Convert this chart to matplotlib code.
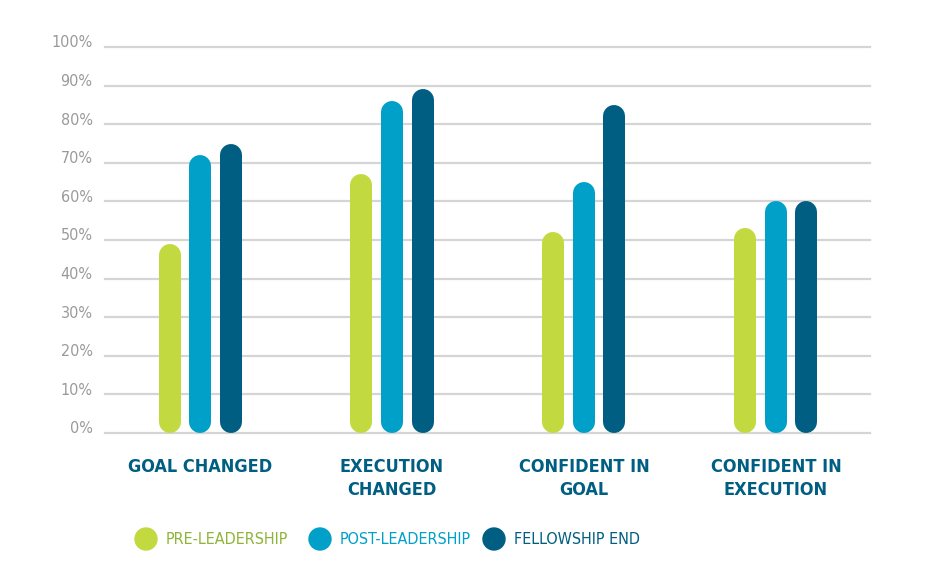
import matplotlib.pyplot as plt
from matplotlib.patches import Ellipse
from matplotlib.transforms import ScaledTranslation
import numpy as np

# Survey results (percent)
categories = ['GOAL CHANGED', 'EXECUTION\nCHANGED', 'CONFIDENT IN\nGOAL', 'CONFIDENT IN\nEXECUTION']
series = ['PRE-LEADERSHIP', 'POST-LEADERSHIP', 'FELLOWSHIP END']
pre_leadership = [49, 67, 52, 53]
post_leadership = [72, 86, 65, 60]
fellowship_end = [75, 89, 85, 60]
yticks = [0, 10, 20, 30, 40, 50, 60, 70, 80, 90, 100]

bar_colors = ['#c3d940', '#00a0c8', '#005e82']
text_colors = ['#8fb43a', '#00a0c8', '#005e82']
label_color = '#005e82'

plt.rcParams['font.family'] = ['DejaVu Sans']

fig = plt.figure(figsize=(9.26, 5.71), dpi=100)
W, H = 926., 571.
# axes placed so that 0% sits at y=433px and 100% at y=47px
ax = fig.add_axes([105 / W, 1 - 433 / H, 765 / W, 386 / H])
ax.set_xlim(-0.495, 3.49)
ax.set_ylim(0, 100)

for s in ax.spines.values():
    s.set_visible(False)
ax.set_xticks([])
ax.set_yticks(yticks)
ax.set_yticklabels(['{}%'.format(t) for t in yticks], color='#9a9a9a',
                   fontsize=11.5, fontstretch='condensed', va='center')
ax.tick_params(axis='y', length=0, pad=9)
# labels sit a little above their gridlines
for lbl in ax.get_yticklabels():
    lbl.set_transform(lbl.get_transform() + ScaledTranslation(0, 3 / 72., fig.dpi_scale_trans))
for t in yticks:
    ax.axhline(t, color='#d5d5d5', lw=1.6, zorder=0, clip_on=False)

# bar geometry: rounded "pill" bars drawn as thick lines with round caps
bar_px = 22
lw_pt = bar_px * 72. / 100
cap = (bar_px / 2.) / (386. / 100)  # cap radius in data units
offsets = [-0.159, 0.0, 0.159]
x = np.arange(len(categories))

for vals, off, col in zip([pre_leadership, post_leadership, fellowship_end], offsets, bar_colors):
    for xi, v in zip(x, vals):
        ax.plot([xi + off, xi + off], [cap, v - cap], color=col, lw=lw_pt,
                solid_capstyle='round', zorder=3, clip_on=False)

# category labels under the groups
for xi, c in zip(x, categories):
    ax.text(xi, -6.5, c, ha='center', va='top', fontsize=13, fontweight='bold',
            fontstretch='condensed', color=label_color, linespacing=1.35)

# legend: dots followed by coloured text
leg_x = [146, 320, 494]
for lx, name, bc, tc in zip(leg_x, series, bar_colors, text_colors):
    fig.patches.append(Ellipse((lx / W, 1 - 539 / H), 22 / W, 22 / H, color=bc,
                               transform=fig.transFigure))
    fig.text((lx + 20) / W, 1 - 540 / H, name, ha='left', va='center',
             fontsize=11.5, fontstretch='condensed', color=tc)

fig.savefig('out.png', dpi=100)
